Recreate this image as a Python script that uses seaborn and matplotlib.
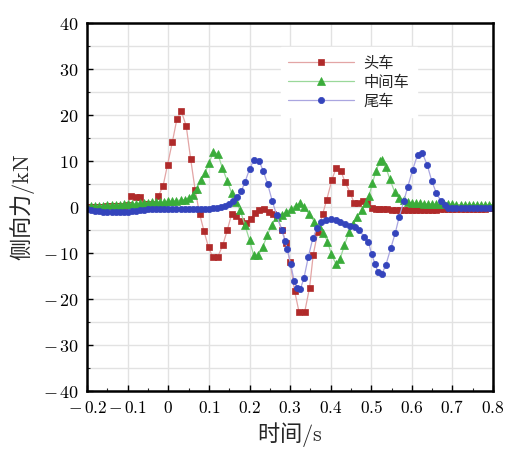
import numpy as np
import pandas as pd
import matplotlib
matplotlib.use("Agg")
import matplotlib.pyplot as plt
from matplotlib.ticker import MultipleLocator, FuncFormatter
import seaborn as sns

# ---- data ----
head_t = [-0.20, -0.19, -0.18, -0.17, -0.16, -0.15, -0.14, -0.13, -0.12, -0.11,
          -0.10, -0.092, -0.080, -0.069, -0.058, -0.047, -0.036, -0.025, -0.013, -0.002,
          0.010, 0.021, 0.032, 0.044, 0.055, 0.066, 0.077, 0.088, 0.099, 0.109,
          0.122, 0.134, 0.145, 0.156, 0.167, 0.179, 0.191, 0.203, 0.214, 0.224,
          0.236, 0.248, 0.259, 0.268, 0.280, 0.290, 0.300, 0.311, 0.322, 0.336,
          0.348, 0.357, 0.368, 0.380, 0.390, 0.403, 0.413, 0.425, 0.435, 0.448,
          0.458, 0.468, 0.480, 0.490, 0.501, 0.512, 0.52, 0.53, 0.54, 0.55,
          0.56, 0.57, 0.58, 0.59, 0.60, 0.61, 0.62, 0.63, 0.64, 0.65,
          0.66, 0.67, 0.68, 0.69, 0.70, 0.71, 0.72, 0.73, 0.74, 0.75,
          0.76, 0.77, 0.78, 0.79, 0.80]
head_v = [0.0, 0.0, 0.1, 0.1, 0.1, 0.2, 0.2, 0.2, 0.3, 0.3,
          0.5, 2.3, 2.1, 2.2, 0.6, 0.6, 0.7, 2.3, 4.6, 9.2,
          14.2, 19.1, 20.8, 17.6, 10.4, 3.7, -1.5, -5.3, -8.8, -10.8,
          -10.8, -8.3, -5.1, -1.5, -2.0, -3.0, -3.4, -2.5, -1.2, -0.7,
          -0.5, -1.0, -1.6, -2.2, -4.9, -7.8, -11.9, -18.2, -22.8, -22.8,
          -17.5, -10.4, -5.5, -1.6, 1.5, 5.9, 8.4, 7.9, 5.5, 3.1,
          0.8, 0.9, 1.2, 0.8, -0.3, -0.5, -0.5, -0.5, -0.5, -0.6,
          -0.6, -0.6, -0.6, -0.6, -0.6, -0.6, -0.6, -0.6, -0.6, -0.6,
          -0.6, -0.5, -0.5, -0.5, -0.5, -0.5, -0.5, -0.5, -0.4, -0.4,
          -0.4, -0.4, -0.4, -0.3, -0.3]

mid_t = [-0.20, -0.19, -0.18, -0.17, -0.16, -0.15, -0.14, -0.13, -0.12, -0.11,
         -0.10, -0.09, -0.08, -0.07, -0.06, -0.05, -0.04, -0.03, -0.02, -0.01,
         0.00, 0.01, 0.02, 0.03, 0.04, 0.05, 0.06, 0.07, 0.08, 0.09,
         0.10, 0.111, 0.122, 0.133, 0.145, 0.156, 0.167, 0.177, 0.189, 0.200,
         0.210, 0.222, 0.233, 0.244, 0.255, 0.267, 0.279, 0.291, 0.303, 0.314,
         0.325, 0.335, 0.346, 0.360, 0.372, 0.382, 0.392, 0.402, 0.413, 0.423,
         0.434, 0.445, 0.456, 0.466, 0.477, 0.486, 0.494, 0.503, 0.512, 0.521,
         0.527, 0.536, 0.546, 0.558, 0.569, 0.580, 0.591, 0.60, 0.61, 0.62,
         0.63, 0.64, 0.65, 0.66, 0.67, 0.68, 0.69, 0.70, 0.71, 0.72,
         0.73, 0.74, 0.75, 0.76, 0.77, 0.78, 0.79, 0.80]
mid_v = [0.1, 0.2, 0.2, 0.3, 0.3, 0.4, 0.4, 0.5, 0.5, 0.6,
         0.6, 0.7, 0.7, 0.8, 0.8, 0.9, 1.0, 1.0, 1.1, 1.1,
         1.2, 1.3, 1.4, 1.5, 1.6, 2.0, 2.7, 3.9, 5.8, 7.3,
         9.5, 12.0, 11.5, 8.5, 5.7, 3.0, 1.0, -0.7, -4.0, -7.2,
         -10.4, -10.4, -8.6, -6.1, -3.9, -2.2, -1.8, -1.0, -0.4, 0.3,
         0.8, 0.0, -1.5, -3.2, -4.2, -5.6, -7.5, -10.3, -12.4, -11.3,
         -8.3, -5.5, -3.7, -2.1, -0.6, 0.9, 2.3, 5.2, 7.9, 9.9,
         10.3, 8.6, 6.0, 3.2, 2.0, 1.5, 1.0, 0.9, 0.8, 0.8,
         0.7, 0.7, 0.7, 0.6, 0.6, 0.6, 0.6, 0.6, 0.5, 0.5,
         0.5, 0.5, 0.5, 0.5, 0.5, 0.5, 0.5, 0.5]

tail_t = [-0.20, -0.19, -0.18, -0.17, -0.16, -0.15, -0.14, -0.13, -0.12, -0.11,
          -0.10, -0.09, -0.08, -0.07, -0.06, -0.05, -0.04, -0.03, -0.02, -0.01,
          0.00, 0.01, 0.02, 0.03, 0.04, 0.05, 0.06, 0.07, 0.08, 0.09,
          0.10, 0.11, 0.12, 0.13, 0.14, 0.15, 0.16, 0.17, 0.18, 0.189,
          0.200, 0.211, 0.223, 0.234, 0.245, 0.256, 0.267, 0.279, 0.288, 0.293,
          0.301, 0.310, 0.317, 0.325, 0.334, 0.345, 0.356, 0.366, 0.376, 0.388,
          0.400, 0.412, 0.424, 0.436, 0.448, 0.460, 0.471, 0.482, 0.493, 0.501,
          0.509, 0.516, 0.526, 0.536, 0.548, 0.559, 0.569, 0.580, 0.590, 0.602,
          0.614, 0.626, 0.638, 0.649, 0.660, 0.671, 0.682, 0.69, 0.70, 0.71,
          0.72, 0.73, 0.74, 0.75, 0.76, 0.77, 0.78, 0.79, 0.80]
tail_v = [-0.5, -0.7, -0.8, -0.9, -1.0, -1.0, -1.0, -1.0, -1.0, -1.0,
          -1.0, -0.9, -0.8, -0.7, -0.6, -0.5, -0.5, -0.5, -0.5, -0.5,
          -0.5, -0.5, -0.5, -0.5, -0.5, -0.4, -0.4, -0.4, -0.4, -0.4,
          -0.4, -0.3, -0.2, 0.0, 0.3, 0.7, 1.3, 2.2, 3.5, 5.5,
          8.2, 10.3, 10.1, 7.8, 4.9, 1.3, -1.8, -5.0, -7.4, -9.2,
          -12.3, -16.0, -17.5, -17.9, -15.5, -10.8, -6.8, -4.6, -3.3, -2.8,
          -2.7, -2.9, -3.2, -3.6, -4.1, -4.4, -5.0, -6.5, -7.6, -10.3,
          -12.3, -14.1, -14.6, -12.6, -9.0, -5.7, -2.1, 1.2, 4.4, 8.1,
          11.3, 11.7, 9.1, 5.7, 3.1, 1.4, 0.4, -0.2, -0.3, -0.3,
          -0.3, -0.3, -0.3, -0.3, -0.3, -0.3, -0.3, -0.3, -0.3]

labels = ["头车", "中间车", "尾车"]
x_ticks = [-0.2, -0.1, 0.0, 0.1, 0.2, 0.3, 0.4, 0.5, 0.6, 0.7, 0.8]
y_ticks = [-40, -30, -20, -10, 0, 10, 20, 30, 40]

# ---- style ----
sns.set_theme(style="ticks")
plt.rcParams['font.family'] = ['Noto Sans CJK SC', 'DejaVu Sans']
plt.rcParams['mathtext.fontset'] = 'cm'

fig = plt.figure(figsize=(5.13, 4.5), dpi=100)
ax = fig.add_axes([0.170, 0.131, 0.791, 0.818])

series = [
    (head_t, head_v, labels[0], 's', '#e3a5a5', '#b02a2a', 4.0),
    (mid_t, mid_v, labels[1], '^', '#9ad89a', '#3aac3a', 5.2),
    (tail_t, tail_v, labels[2], 'o', '#aaa6e0', '#3444bc', 4.5),
]
for t, v, lab, mk, lc, mc, ms in series:
    df = pd.DataFrame({"t": t, "v": v})
    sns.lineplot(data=df, x="t", y="v", ax=ax, label=lab, sort=False, estimator=None,
                 color=lc, lw=0.9, marker=mk, markersize=ms,
                 markerfacecolor=mc, markeredgecolor=mc, markeredgewidth=0.5)

ax.set_xlim(-0.2, 0.8)
ax.set_ylim(-40, 40)
ax.set_xticks(x_ticks)
ax.set_yticks(y_ticks)
ax.xaxis.set_minor_locator(MultipleLocator(0.05))
ax.yaxis.set_minor_locator(MultipleLocator(5))

def num(v, fmt_str):
    if abs(v) < 1e-9:
        return "$0$"
    s = fmt_str.format(abs(v))
    return f"$-\\,{s}$" if v < 0 else f"${s}$"

ax.xaxis.set_major_formatter(FuncFormatter(lambda v, p: num(v, "{:.1f}")))
ax.yaxis.set_major_formatter(FuncFormatter(lambda v, p: num(v, "{:g}")))
ax.tick_params(axis='x', which='major', direction='in', length=4, width=1.0,
               labelsize=12.5, colors='black', pad=6)
ax.tick_params(axis='y', which='major', direction='in', length=4, width=1.0,
               labelsize=13, colors='black', pad=6)
ax.tick_params(axis='both', which='minor', direction='in', length=2, width=0.8)

ax.grid(True, which='major', axis='x', color='#e2e2e2', lw=1.0)
ax.grid(True, which='both', axis='y', color='#e2e2e2', lw=1.0)
ax.set_axisbelow(True)
for sp in ax.spines.values():
    sp.set_linewidth(1.8)
    sp.set_color('black')

ax.set_xlabel("时间$/\\mathrm{s}$", fontsize=16, labelpad=2)
ax.set_ylabel("侧向力$/\\mathrm{kN}$", fontsize=16, labelpad=4)

leg = ax.legend(loc='upper left', bbox_to_anchor=(0.458, 0.955), fontsize=11,
                frameon=True, fancybox=False, edgecolor='white', facecolor='white',
                framealpha=1.0, handlelength=4.3, handletextpad=0.6,
                labelspacing=0.12, borderpad=0.5, numpoints=1)

fig.savefig("out.png", dpi=100)
